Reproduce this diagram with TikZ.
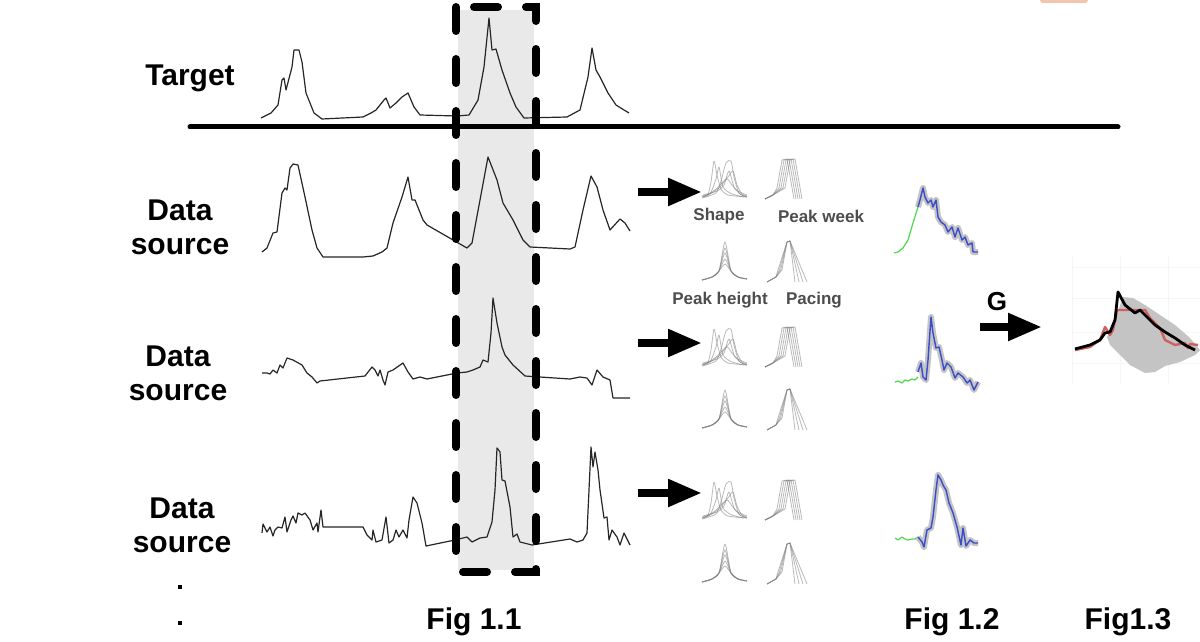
\documentclass[tikz,border=0pt]{standalone}
\usepackage{fontspec}
\setmainfont{Liberation Sans}
\usetikzlibrary{arrows.meta,calc}

\definecolor{windowgray}{HTML}{E9E9E9}
\definecolor{tabsalmon}{HTML}{F5C4AD}
\definecolor{taggray}{HTML}{4D4D4D}
\definecolor{fcblue}{HTML}{3A4CCB}
\definecolor{fcgreen}{HTML}{4FD84F}
\definecolor{bandgray}{HTML}{C4C4C4}
\definecolor{obsred}{HTML}{D0605F}

\tikzset{
  pics/shapes/.style={code={
    \draw[panelline] plot[smooth,tension=0.4] coordinates {(0,40) (6,37) (9,25) (12,4) (15,18) (19,32) (26,38) (45,40)};
    \draw[panelline] plot[smooth,tension=0.4] coordinates {(0,41) (14,36) (19,24) (24,6) (29,4) (32,20) (37,36) (45,40)};
    \draw[panelline] plot[smooth,tension=0.4] coordinates {(2,40) (13,33) (20,26) (26,20) (31,14) (35,28) (40,37) (45,39)};
    \draw[panelline] plot[smooth,tension=0.4] coordinates {(0,39) (10,36) (18,30) (25,22) (30,28) (38,37) (45,40)};
    \draw[panelline] plot[smooth,tension=0.4] coordinates {(0,40) (8,37) (14,22) (17,10) (21,30) (30,37) (42,40)};
    \draw[panelline] plot[smooth,tension=0.4] coordinates {(1,38) (15,34) (22,28) (27,14) (33,32) (45,38)};
  }},
  pics/weeks/.style={code={
    \foreach \d in {-2,0,2,4,6}
      \draw[panelline] plot coordinates {(0,42) (8,38) (14+\d,31) (19+\d,3) (24+\d,2) (31+\d,42)};
  }},
  pics/heights/.style={code={
    \foreach \h in {2,8,13,19,24}
      \draw[panelline] plot[smooth,tension=0.4] coordinates {(0,40) (10,37) (17,31) (23,\h) (29,31) (36,37) (45,39)};
  }},
  pics/pacings/.style={code={
    \foreach \w in {0,4,8,12}
      \draw[panelline] plot coordinates {(0,42) (9,37) (15-\w/3,30) (20,2) (23,1) (28+\w,42)};
  }},
}

\begin{document}
\begin{tikzpicture}[x=0.5pt,y=-0.5pt,
  trace/.style={black!85, line width=0.6pt, line join=round},
  label/.style={font=\fontsize{15}{17}\selectfont\bfseries, align=center},
  tag/.style={font=\fontsize{8.5}{10}\selectfont\bfseries, text=taggray, inner sep=0pt},
  bigarrow/.style={line width=4pt, -{Triangle[length=17pt,width=13pt]}},
  panelbox/.style={minimum width=22.5pt, minimum height=21pt, inner sep=0pt, anchor=north west},
  panelline/.style={gray, opacity=0.55, line width=0.4pt, line join=round},
  fcline/.style={fcblue, line width=0.7pt, line join=round, preaction={draw=bandgray, line width=3pt, line join=round}},
  greenline/.style={fcgreen, line width=0.6pt, line join=round}]

\useasboundingbox[fill=white] (0,0) rectangle (1200,642);
\fill[tabsalmon, rounded corners=1.5pt] (1040,-5) rectangle (1088,3);

% window over the peak
\fill[windowgray] (458,10) rectangle (534,570);

\node[label] (target) at (190,78) {Target};
\node[label] (src-1) at (180,227) {Data\\source};
\node[label] (src-2) at (178,373) {Data\\source};
\node[label] (src-3) at (182,525) {Data\\source};
\fill (178,585) rectangle (182,589);
\fill (178,621) rectangle (182,625);

\draw[trace] plot coordinates {(261,118) (271,113) (278,105) (282,80) (284,78) (286,90) (292,67) (294,50) (299,50) (302,62) (306,93) (314,113) (322,119) (363,117) (371,113) (376,110) (384,100) (386,98) (390,108) (396,103) (402,97) (408,93) (414,107) (420,115) (457,116) (469,115) (478,100) (484,67) (489,18) (492,50) (496,49) (502,70) (510,93) (516,107) (524,118) (567,117) (580,110) (588,77) (592,48) (596,70) (600,77) (608,93) (616,105) (624,110) (629,113)};

\draw[trace] plot coordinates {(262,252) (267,248) (273,233) (277,232) (282,193) (285,188) (287,190) (290,168) (293,164) (298,165) (305,197) (312,230) (317,248) (323,257) (363,257) (373,256) (382,252) (387,248) (393,223) (402,197) (408,177) (412,200) (415,200) (423,220) (427,225) (467,248) (472,243) (480,200) (488,157) (497,180) (503,203) (513,220) (523,240) (530,247) (570,249) (575,247) (583,210) (591,176) (597,187) (603,210) (610,230) (620,219) (625,223) (630,231)};

\draw[trace] plot coordinates {(262,373) (267,373) (270,374) (273,370) (277,373) (280,365) (283,368) (287,358) (293,360) (302,365) (307,373) (312,377) (317,383) (320,381) (365,376) (372,367) (375,370) (378,376) (380,370) (383,380) (385,385) (388,372) (393,370) (403,363) (408,372) (413,379) (420,377) (427,379) (457,373) (467,372) (473,370) (480,367) (483,360) (488,362) (491,333) (493,298) (497,323) (502,347) (505,355) (513,365) (525,376) (570,379) (580,377) (587,378) (592,385) (597,370) (603,377) (610,380) (613,398) (630,398)};

\draw[trace] plot coordinates {(262,533) (263,524) (267,532) (270,527) (273,536) (275,530) (278,527) (282,528) (285,517) (287,532) (291,520) (293,516) (296,523) (298,513) (302,515) (305,513) (310,520) (313,530) (317,523) (318,532) (321,510) (323,527) (363,527) (367,535) (372,540) (373,530) (376,542) (382,540) (386,517) (389,543) (393,540) (396,530) (399,537) (403,530) (407,538) (409,520) (413,497) (417,503) (422,523) (426,546) (455,540) (467,537) (472,542) (480,538) (487,537) (492,522) (495,490) (497,448) (500,452) (502,480) (505,481) (510,507) (513,537) (517,534) (520,542) (532,545) (570,539) (577,542) (583,540) (587,533) (591,447) (593,467) (595,452) (598,470) (600,490) (604,518) (607,517) (609,540) (612,530) (617,537) (620,545) (624,533) (630,545)};

\draw[line width=2.5pt, line cap=round] (190,127) -- (1118,127);
\draw[line width=4pt, line cap=round, dash pattern=on 12pt off 14pt] (456,7) rectangle (536,572);

%%%%%%%%%%%%%%%%%%%%%%%%%%%%%%%%%%%%%%%%%%%%%%%%%%%%%%%%%%%%%%%%%%%%%%%%%%%%%%%%

\foreach \r/\ya/\yb/\yt in {1/157/240/192, 2/325/388/343, 3/478/542/493} {
  \node[panelbox] (shape-\r) at (702,\ya) {};
  \node[panelbox] (week-\r) at (765,\ya) {};
  \node[panelbox] (height-\r) at (702,\yb) {};
  \node[panelbox] (pacing-\r) at (767,\yb) {};
  \pic at (shape-\r.north west) {shapes};
  \pic at (week-\r.north west) {weeks};
  \pic at (height-\r.north west) {heights};
  \pic at (pacing-\r.north west) {pacings};
  \coordinate (tail-\r) at (638,\yt);
  \draw[bigarrow] (tail-\r) -- (tail-\r -| shape-\r.west);
}

\node[tag] at (719,216) {Shape};
\node[tag] at (821,216) {Peak week};
\node[tag] at (720,300) {Peak height};
\node[tag] at (814,300) {Pacing};

% fig 1.2
\draw[greenline] plot coordinates {(894,253) (898,252) (903,248) (908,240) (913,223) (918,207)};
\draw[fcline] plot coordinates {(918,207) (920,200) (923,188) (925,197) (928,203) (931,200) (933,207) (936,200) (938,217) (941,222) (945,225) (948,232) (952,227) (955,237) (958,228) (962,240) (965,237) (968,245) (972,243) (973,252) (978,252)};

\draw[greenline] plot coordinates {(895,382) (898,381) (902,383) (905,380) (908,381) (912,379) (915,380) (918,377)};
\draw[fcline] plot coordinates {(918,372) (921,363) (923,377) (926,380) (928,360) (931,317) (933,333) (936,348) (939,347) (942,360) (944,370) (947,363) (951,367) (955,378) (958,373) (963,377) (967,383) (970,380) (974,390) (978,382)};

\draw[greenline] plot coordinates {(895,538) (898,540) (902,537) (905,539) (908,540) (912,539) (915,539) (918,537)};
\draw[fcline] plot coordinates {(918,537) (922,542) (924,547) (927,530) (931,528) (933,517) (936,490) (938,475) (941,480) (943,485) (946,490) (949,503) (953,513) (957,527) (961,545) (963,528) (966,546) (970,540) (974,543) (978,543)};

% fig 1.3
\node[inner sep=0pt, minimum width=64pt, minimum height=62.5pt, anchor=north west] (pred) at (1072,260) {};
\foreach \gx in {1072,1120,1168}
  \draw[gray!8, line width=0.5pt] (\gx,255) -- (\gx,385);
\foreach \gy in {267,298,332,363}
  \draw[gray!8, line width=0.5pt] (1072,\gy) -- (1200,\gy);
\fill[bandgray] (1107,337) -- (1115,320) -- (1123,297) -- (1133,298) -- (1145,305) -- (1160,315) -- (1175,325) -- (1190,338) -- (1200,350) -- (1195,355) -- (1180,362) -- (1165,366) -- (1155,372) -- (1145,373) -- (1130,365) -- (1120,355) -- (1110,345) -- cycle;
\draw[obsred, line width=1.2pt, line join=round] plot coordinates {(1075,350) (1090,347) (1100,340) (1105,327) (1110,335) (1113,330) (1117,310) (1128,310) (1145,310) (1150,318) (1160,328) (1165,340) (1175,345) (1185,343) (1188,348) (1190,344) (1198,345)};
\draw[black, line width=1.4pt, line join=round] plot coordinates {(1075,349) (1090,345) (1100,340) (1105,333) (1110,332) (1115,320) (1118,292) (1125,305) (1135,313) (1140,310) (1145,315) (1155,325) (1165,332) (1175,338) (1185,345) (1195,350)};

\coordinate (g-tail) at (980,327);
\draw[bigarrow, shorten >=15pt] (g-tail) -- (g-tail -| pred.west);
\node[font=\fontsize{13}{15}\selectfont\bfseries] (g-label) at (997,302) {G};

\node[label] (fig11) at (474,622) {Fig 1.1};
\node[label] (fig12) at (952,622) {Fig 1.2};
\node[label] (fig13) at (1128,622) {Fig1.3};

\end{tikzpicture}
\end{document}
